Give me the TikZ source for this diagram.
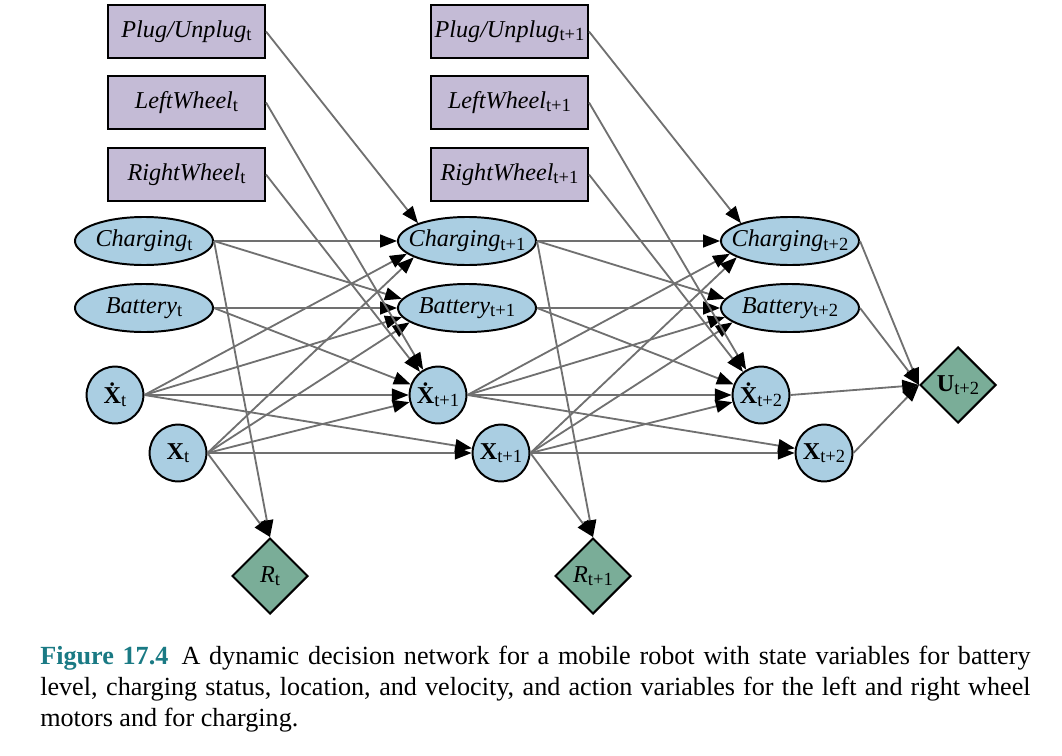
\documentclass[tikz,border=0pt]{standalone}
\usepackage{fontspec}
\setmainfont{Liberation Serif}
\usetikzlibrary{arrows.meta,shapes.geometric}
\definecolor{actfill}{RGB}{196,187,214}
\definecolor{chancefill}{RGB}{170,206,226}
\definecolor{utilfill}{RGB}{122,173,152}
\definecolor{edgegray}{RGB}{112,112,112}
\definecolor{figteal}{RGB}{26,122,132}
\newcommand{\tsub}[1]{\raisebox{-0.3ex}{\fontsize{13.2}{13}\selectfont #1}}
\newcommand{\vn}[1]{\makebox[0pt]{#1}}

\begin{document}
\begin{tikzpicture}[x=0.025cm,y=-0.025cm,font=\fontsize{17.2}{19}\selectfont,
  var/.style={draw,line width=1.4pt,inner sep=0pt},
  act/.style={var,rectangle,fill=actfill,minimum width=3.925cm,minimum height=1.325cm},
  chance/.style={var,ellipse,fill=chancefill,minimum width=3.45cm,minimum height=1.2cm},
  state/.style={var,circle,fill=chancefill,minimum size=1.42cm},
  util/.style={var,diamond,aspect=1,fill=utilfill,minimum width=1.9cm,minimum height=1.9cm},
  edge/.style={draw=edgegray,line width=1.3pt,-{Triangle[length=4.2mm,width=3.2mm,color=black]}}]
\useasboundingbox (0,0) rectangle (1062,755);
% actions
\node[act] (pt) at (186.5,31.5) {\vn{\textit{Plug/Unplug}\tsub{t}}};
\node[act] (lwt) at (186.5,102.5) {\vn{\textit{LeftWheel}\tsub{t}}};
\node[act] (rwt) at (186.5,174.5) {\vn{\textit{RightWheel}\tsub{t}}};
\node[act] (pt1) at (509.5,31.5) {\vn{\textit{Plug/Unplug}\tsub{t+1}}};
\node[act] (lw1) at (509.5,102.5) {\vn{\textit{LeftWheel}\tsub{t+1}}};
\node[act] (rw1) at (509.5,174.5) {\vn{\textit{RightWheel}\tsub{t+1}}};
% slice t
\node[chance] (ct) at (144,241) {\vn{\textit{Charging}\tsub{t}}};
\node[chance] (bt) at (144,308) {\vn{\textit{Battery}\tsub{t}}};
\node[state] (vt) at (115,395) {\vn{\textbf{\.X}\tsub{t}}};
\node[state] (xt) at (178,453) {\vn{\textbf{X}\tsub{t}}};
\node[util] (rt) at (270,576) {\vn{\textit{R}\tsub{t}}};
% slice t+1
\node[chance] (c1) at (467,241) {\vn{\textit{Charging}\tsub{t+1}}};
\node[chance] (b1) at (467,308) {\vn{\textit{Battery}\tsub{t+1}}};
\node[state] (v1) at (438,395) {\vn{\textbf{\.X}\tsub{t+1}}};
\node[state] (x1) at (501,453) {\vn{\textbf{X}\tsub{t+1}}};
\node[util] (r1) at (593,576) {\vn{\textit{R}\tsub{t+1}}};
% slice t+2
\node[chance] (c2) at (790,241) {\vn{\textit{Charging}\tsub{t+2}}};
\node[chance] (b2) at (790,308) {\vn{\textit{Battery}\tsub{t+2}}};
\node[state] (v2) at (761,395) {\vn{\textbf{\.X}\tsub{t+2}}};
\node[state] (x2) at (824,453) {\vn{\textbf{X}\tsub{t+2}}};
\node[util] (u2) at (958,385) {\vn{\textbf{U}\tsub{t+2}}};
% t -> t+1
\draw[edge] (ct.east) -- (c1.west);
\draw[edge] (pt.east) -- (c1.160);
\draw[edge] (vt.east) -- (c1.192);
\draw[edge] (xt.east) -- (c1.197);
\draw[edge] (ct.east) -- (b1.172);
\draw[edge] (bt.east) -- (b1.west);
\draw[edge] (vt.east) -- (b1.188);
\draw[edge] (xt.east) -- (b1.194);
\draw[edge] (lwt.east) -- (v1);
\draw[edge] (rwt.east) -- (v1);
\draw[edge] (bt.east) -- (v1);
\draw[edge] (vt.east) -- (v1);
\draw[edge] (xt.east) -- (v1);
\draw[edge] (vt.east) -- (x1);
\draw[edge] (xt.east) -- (x1);
\draw[edge] (ct.east) -- (rt.north);
\draw[edge] (xt.east) -- (rt.north);
% t+1 -> t+2
\draw[edge] (c1.east) -- (c2.west);
\draw[edge] (pt1.east) -- (c2.160);
\draw[edge] (v1.east) -- (c2.192);
\draw[edge] (x1.east) -- (c2.197);
\draw[edge] (c1.east) -- (b2.172);
\draw[edge] (b1.east) -- (b2.west);
\draw[edge] (v1.east) -- (b2.188);
\draw[edge] (x1.east) -- (b2.194);
\draw[edge] (lw1.east) -- (v2);
\draw[edge] (rw1.east) -- (v2);
\draw[edge] (b1.east) -- (v2);
\draw[edge] (v1.east) -- (v2);
\draw[edge] (x1.east) -- (v2);
\draw[edge] (v1.east) -- (x2);
\draw[edge] (x1.east) -- (x2);
\draw[edge] (c1.east) -- (r1.north);
\draw[edge] (x1.east) -- (r1.north);
% utility
\draw[edge] (c2.east) -- (u2.west);
\draw[edge] (b2.east) -- (u2.west);
\draw[edge] (v2.east) -- (u2.west);
\draw[edge] (x2.east) -- (u2.west);
% caption
\node[anchor=north west,inner sep=0pt,text width=24.75cm,align=justify,
  font=\fontsize{18.6}{22}\selectfont] (cap) at (40,646)
  {\textcolor{figteal}{\textbf{Figure 17.4}}\hspace{0.5em}A dynamic decision network for a mobile robot with state variables for battery level, charging status, location, and velocity, and action variables for the left and right wheel motors and for charging.};
\end{tikzpicture}
\end{document}
